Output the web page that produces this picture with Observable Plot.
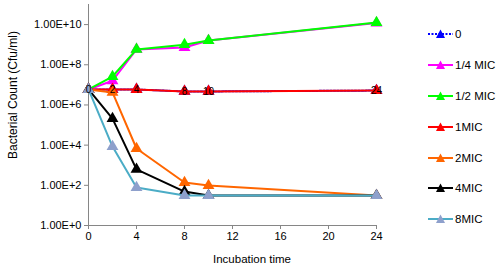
<!DOCTYPE html>
<html><head><meta charset="utf-8">
<script src="https://cdn.jsdelivr.net/npm/d3@7"></script>
<script src="https://cdn.jsdelivr.net/npm/@observablehq/plot@0.6"></script>
<style>
body{margin:0;background:#fff;font-family:"Liberation Sans",Arial,sans-serif;}
#wrap{position:relative;width:500px;height:270px;}
#legend{position:absolute;left:428px;top:19px;font-size:11.5px;color:#000;}
.row{display:flex;align-items:center;height:30.8px;}
.row svg{margin-right:2px;}
#ylab{position:absolute;left:13px;top:95px;transform:translate(-50%,-50%) rotate(-90deg);font-size:12px;white-space:nowrap;color:#000;}
#xlab{position:absolute;left:252px;top:259px;transform:translate(-50%,-50%);font-size:11.5px;white-space:nowrap;color:#000;}
</style>
</head><body>
<div id="wrap"><div id="chart"></div><div id="legend"></div><div id="ylab"></div><div id="xlab"></div></div>
<script>
const hours = [0, 2, 4, 8, 10, 24];
const seriesNames = ["0", "1/4 MIC", "1/2 MIC", "1MIC", "2MIC", "4MIC", "8MIC"];
const s0     = [5.9e6, 5.9e6, 5.9e6, 4.7e6, 4.7e6, 5.2e6];
const sQuart = [5.9e6, 1.6e7, 5.8e8, 7.2e8, 1.6e9, 1.2e10];
const sHalf  = [5.9e6, 2.6e7, 5.8e8, 1.0e9, 1.6e9, 1.26e10];
const s1MIC  = [5.9e6, 5.9e6, 5.9e6, 4.7e6, 4.7e6, 5.2e6];
const s2MIC  = [5.9e6, 4.2e6, 6.8e3, 138, 98, 31];
const s4MIC  = [5.9e6, 2.1e5, 620, 49, 31, 31];
const s8MIC  = [5.9e6, 8.5e3, 78, 31, 31, 31];
const yTicks = [1, 1e2, 1e4, 1e6, 1e8, 1e10];
const xTicks = [0, 4, 8, 12, 16, 20, 24];
const yTitle = "Bacterial Count (Cfu/ml)";
const xTitle = "Incubation time";

const allSeries = [s0, sQuart, sHalf, s1MIC, s2MIC, s4MIC, s8MIC];
const lineColors = ["#0000FF", "#FF00FF", "#00FF00", "#FF0000", "#FF6600", "#000000", "#4BACC6"];
const markColors = ["#0000FF", "#FF00FF", "#00FF00", "#FF0000", "#FF6600", "#000000", "#8EA0CC"];
const dashes = ["2,1.5", null, null, null, null, null, null];

const marks = [
  Plot.ruleX([0], {stroke: "#868686"}),
  Plot.ruleY([1], {stroke: "#868686"}),
  Plot.axisY({ticks: yTicks, tickFormat: d => d.toExponential(2).toUpperCase(), tickSize: 4, stroke: "#868686", fontSize: 11, tickPadding: 3, label: null}),
  Plot.axisX({ticks: xTicks, tickSize: 4, stroke: "#868686", fontSize: 11, tickPadding: 3, label: null})
];
allSeries.forEach((vals, i) => {
  const data = hours.map((h, j) => ({h, v: vals[j]}));
  marks.push(Plot.line(data, {x: "h", y: "v", stroke: lineColors[i], strokeWidth: 2, strokeDasharray: dashes[i]}));
  marks.push(Plot.dot(data, {x: "h", y: "v", symbol: "triangle", r: 4.4, fill: markColors[i], stroke: "none"}));
});
const labelData = hours.map((h, j) => ({h, v: s0[j]}));
marks.push(Plot.text(labelData, {x: "h", y: "v", text: d => String(d.h), fontSize: 10, fill: "#000"}));

const chart = Plot.plot({
  width: 500, height: 270,
  marginLeft: 88, marginRight: 124, marginTop: 4, marginBottom: 45,
  style: {fontFamily: "Liberation Sans, Arial, sans-serif", fontSize: "11px", color: "#000", background: "#fff"},
  x: {domain: [0, 24]},
  y: {type: "log", domain: [1, 1e11]},
  marks
});
document.getElementById("chart").appendChild(chart);
document.getElementById("ylab").textContent = yTitle;
document.getElementById("xlab").textContent = xTitle;

const legend = document.getElementById("legend");
seriesNames.forEach((name, i) => {
  const row = document.createElement("div");
  row.className = "row";
  row.innerHTML = `<svg width="25" height="10"><line x1="0" y1="5" x2="25" y2="5" stroke="${lineColors[i]}" stroke-width="2" ${dashes[i] ? `stroke-dasharray="${dashes[i]}"` : ""}/><path d="M12.5,0.5 L17,9 L8,9 Z" fill="${markColors[i]}"/></svg><span>${name}</span>`;
  legend.appendChild(row);
});
</script>
</body></html>
